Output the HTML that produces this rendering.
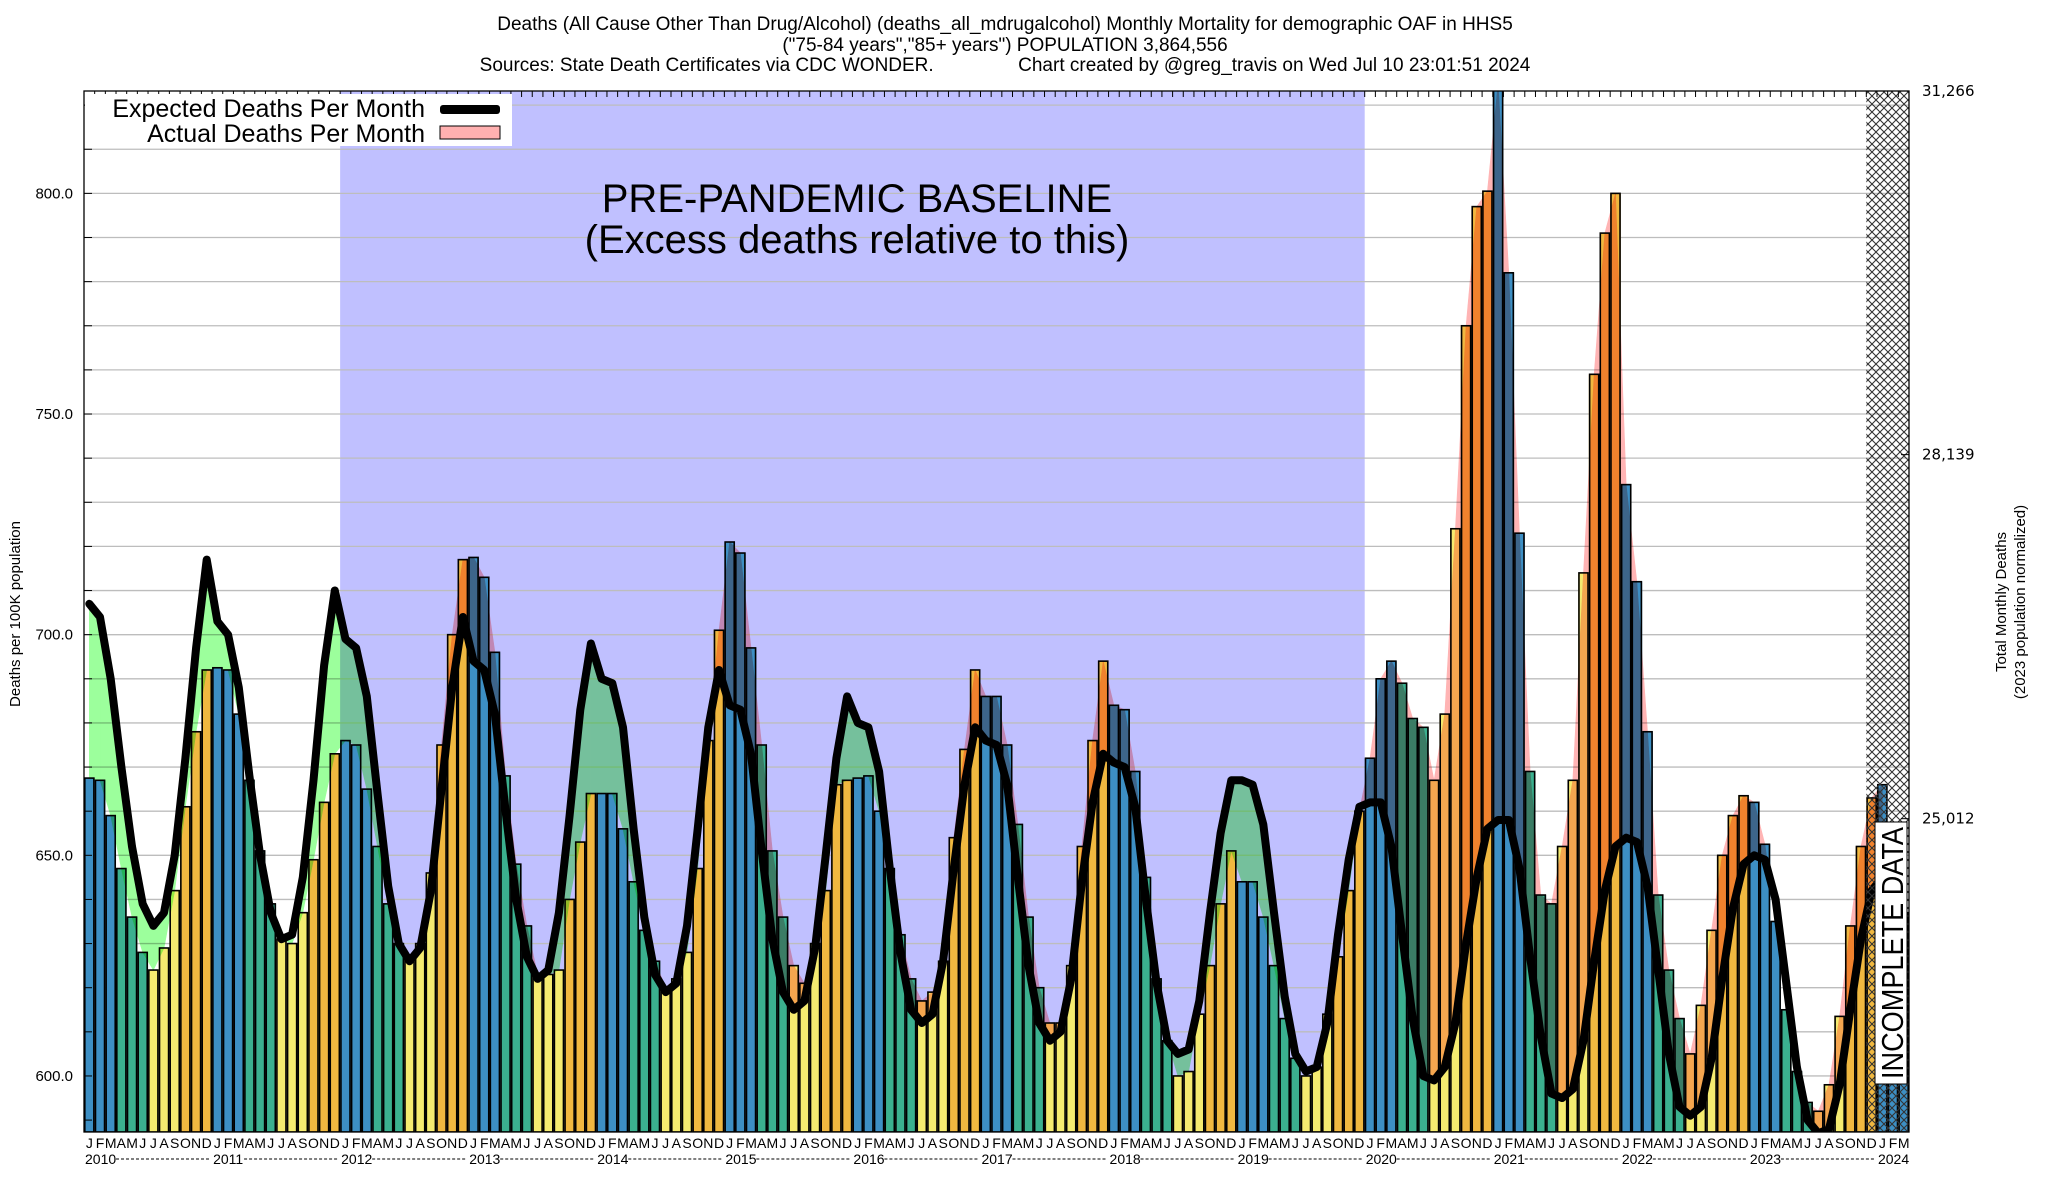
<!DOCTYPE html>
<html><head><meta charset="utf-8"><style>
html,body{margin:0;padding:0;background:#fff;}
svg{display:block;font-family:"Liberation Sans Narrow","Liberation Sans",sans-serif;}
</style></head><body>
<svg id="chart" width="2048" height="1200" viewBox="0 0 2048 1200" xmlns="http://www.w3.org/2000/svg">
<defs>
<pattern id="hatch" width="8" height="8" patternUnits="userSpaceOnUse">
<path d="M0,0 L8,8 M8,0 L0,8" stroke="#333" stroke-width="1.1"/>
</pattern>
<clipPath id="plotclip"><rect x="84" y="91" width="1825" height="1041"/></clipPath>
</defs>
<g id="titles" font-size="19" text-anchor="middle" fill="#000">
<text x="1005" y="30">Deaths (All Cause Other Than Drug/Alcohol) (deaths_all_mdrugalcohol) Monthly Mortality for demographic OAF in HHS5</text>
<text x="1005" y="51">("75-84 years","85+ years") POPULATION 3,864,556</text>
<text x="1005" y="71" xml:space="preserve">Sources: State Death Certificates via CDC WONDER.                Chart created by @greg_travis on Wed Jul 10 23:01:51 2024</text>
</g>
<g clip-path="url(#plotclip)">
<g id="layer-bg"></g>
<g id="layer-grid"></g>
<g id="layer-bars"></g>
<g id="layer-areas" style="mix-blend-mode:multiply"></g>
<g id="layer-outlines"></g>
<g id="layer-line"></g>
</g>
<g id="layer-hatch"></g>
<g id="layer-axes"></g>
<g id="layer-text"></g>
</svg>
<script>
const years = [2010,2011,2012,2013,2014,2015,2016,2017,2018,2019,2020,2021,2022,2023,2024];
const monthLetters = ["J","F","M","A","M","J","J","A","S","O","N","D"];
const actualDeaths = [
667.5,667,659,647,636,628,624,629,642,661,678,692,
692.5,692,682,667,651,639,631,630,637,649,662,673,
676,675,665,652,639,630,627,630,646,675,700,717,
717.5,713,696,668,648,634,623,623,624,640,653,664,
664,664,656,644,633,626,620,622,628,647,676,701,
721,718.5,697,675,651,636,625,621,630,642,666,667,
667.5,668,660,647,632,622,617,619,626,654,674,692,
686,686,675,657,636,620,612,612,625,652,676,694,
684,683,669,645,622,608,600,601,614,625,639,651,
644,644,636,625,613,604,600,602,614,627,642,660,
672,690,694,689,681,679,667,682,724,770,797,800.5,
825,782,723,669,641,639,652,667,714,759,791,800,
734,712,678,641,624,613,605,616,633,650,659,663.5,
662,652.5,635,615,601,594,592,598,613.5,634,652,663,
666,657,637
];
const expectedDeaths = [
707,704,690,670,652,639,634,637,650,672,697,717,
703,700,688,668,650,637,631,632,645,667,693,710,
699,697,686,664,643,630,626,629,642,665,688,704,
694,692,682,660,640,627,622,624,637,659,683,698,
690,689,679,656,636,623,619,621,634,656,679,692,
684,683,673,651,631,619,615,617,629,650,672,686,
680,679,669,647,628,615,612,614,626,647,666,679,
676,675,666,645,625,612,608,610,622,644,662,673,
671,670,661,640,621,608,605,606,617,637,655,667,
667,666,657,637,618,605,601,602,612,632,649,661,
662,662,652,632,613,600,599,602,612,630,645,656,
658,658,647,627,609,596,595,597,608,626,642,652,
654,653,643,624,605,593,591,593,604,622,638,648,
650,649,640,621,602,590,587,588,598,615,631,642,
645
];
const yTicks = [600,650,700,750,800];
const rightTickLabels = ["25,012","28,139","31,266"];
const rightTickValues = [658.3,740.8,823.2];

const NS="http://www.w3.org/2000/svg";
const L=84,R=1909,T=91,B=1132, YMIN=587.3, YMAX=823.2;
const N=actualDeaths.length;
const bw=(R-L)/N;
function xs(i){return L+i*bw;}
function xc(i){return L+(i+0.5)*bw;}
function ys(v){return B-(v-YMIN)/(YMAX-YMIN)*(B-T);}
function mk(tag,attrs,parent){const e=document.createElementNS(NS,tag);for(const k in attrs)e.setAttribute(k,attrs[k]);document.getElementById(parent).appendChild(e);return e;}

let e=mk('rect',{x:L,y:T,width:R-L,height:B-T,fill:'#fff'},'layer-bg');


e=mk('rect',{x:xs(24),y:T,width:xs(120)-xs(24),height:B-T,fill:'#c0c0ff'},'layer-bg');



for(let v=590;v<=820;v+=10){
  e=mk('line',{x1:L,x2:R,y1:ys(v),y2:ys(v),stroke:'#bdbdbd','stroke-width':1.3},'layer-grid');
  
  
  mk('line',{x1:L,x2:L+8,y1:ys(v),y2:ys(v),stroke:'#000','stroke-width':1},'layer-axes');
}

const qColors=['#3d8fc4','#3bb08f','#f5eb70','#f0b840'];
for(let i=0;i<N;i++){
  const m=i%12, c=qColors[Math.floor(m/3)];
  e=mk('rect',{x:xs(i),y:ys(actualDeaths[i]),width:bw,height:B-ys(actualDeaths[i]),fill:c},'layer-bars');
  
  
  e=mk('rect',{x:xs(i)+0.8,y:ys(actualDeaths[i]),width:bw-1.6,height:B-ys(actualDeaths[i]),fill:'none',stroke:'#000','stroke-width':1.6},'layer-outlines');
  
  
}

const NE=expectedDeaths.length;
function segs(sign){
  const polys=[];
  for(let i=0;i<NE-1;i++){
    const d0=actualDeaths[i]-expectedDeaths[i], d1=actualDeaths[i+1]-expectedDeaths[i+1];
    const x0=xc(i),x1=xc(i+1);
    const p0=sign*d0>0,p1=sign*d1>0;
    if(p0||p1){
      let ta=0,tb=1;
      if(p0!==p1){const t=d0/(d0-d1); if(p0)tb=t; else ta=t;}
      const lerp=(a,b,t)=>a+(b-a)*t;
      const xa=lerp(x0,x1,ta),xb=lerp(x0,x1,tb);
      const aa=lerp(actualDeaths[i],actualDeaths[i+1],ta),ab=lerp(actualDeaths[i],actualDeaths[i+1],tb);
      const ea=lerp(expectedDeaths[i],expectedDeaths[i+1],ta),eb=lerp(expectedDeaths[i],expectedDeaths[i+1],tb);
      polys.push(`${xa},${ys(aa)} ${xb},${ys(ab)} ${xb},${ys(eb)} ${xa},${ys(ea)}`);
    }
  }
  return polys;
}
segs(1).forEach(p=>{e=mk('polygon',{points:p,fill:'#ffb4b4',stroke:'#ffb4b4','stroke-width':0.6},'layer-areas');
  
  });
segs(-1).forEach(p=>{e=mk('polygon',{points:p,fill:'#9cff9c',stroke:'#9cff9c','stroke-width':0.6},'layer-areas');
  
  });

let d='';
for(let i=0;i<NE;i++){d+=(i?'L':'M')+xc(i).toFixed(1)+','+ys(expectedDeaths[i]).toFixed(1);}
e=mk('path',{d:d,fill:'none',stroke:'#000','stroke-width':8,'stroke-linejoin':'round','stroke-linecap':'round'},'layer-line');



e=mk('rect',{x:xs(167),y:T,width:R-xs(167),height:B-T,fill:'url(#hatch)'},'layer-hatch');



e=mk('rect',{x:L,y:T,width:R-L,height:B-T,fill:'none',stroke:'#000','stroke-width':1.3},'layer-axes');


for(let i=0;i<=N;i++){mk('line',{x1:xs(i),x2:xs(i),y1:T,y2:T+6,stroke:'#000','stroke-width':1},'layer-axes');}

yTicks.forEach(v=>{e=mk('text',{x:73,y:ys(v)+5,'font-size':15,'text-anchor':'end'},'layer-text');e.textContent=v.toFixed(1);
  
  });
rightTickValues.forEach((v,k)=>{
  mk('line',{x1:R-8,x2:R,y1:ys(v),y2:ys(v),stroke:'#000','stroke-width':1},'layer-axes');
  e=mk('text',{x:1922,y:ys(v)+5,'font-size':15,'font-family':'DejaVu Sans, sans-serif'},'layer-text');e.textContent=rightTickLabels[k];
  
  });

for(let i=0;i<N;i++){
  e=mk('text',{x:xc(i),y:1148,'font-size':14,'text-anchor':'middle'},'layer-text');e.textContent=monthLetters[i%12];
  
  
}
years.forEach((yr,k)=>{
  const x=xs(k*12);
  e=mk('text',{x:x+1,y:1164,'font-size':14},'layer-text');e.textContent=yr;
  
  
  if(k<years.length-1){
    mk('line',{x1:x+32,x2:xs((k+1)*12)-2,y1:1159,y2:1159,stroke:'#000','stroke-width':1,'stroke-dasharray':'3,2'},'layer-text');
  }
});
</script>
<div style="position:absolute;left:0;top:0;width:2048px;height:1200px;pointer-events:none;">
<svg width="2048" height="1200" style="position:absolute;left:0;top:0;font-family:'Liberation Sans Narrow','Liberation Sans',sans-serif;">
<text transform="translate(20,614) rotate(-90)" font-size="15" text-anchor="middle">Deaths per 100K population</text>
<g font-size="15" text-anchor="middle">
<text transform="translate(2006,602) rotate(-90)">Total Monthly Deaths</text>
<text transform="translate(2025,602) rotate(-90)">(2023 population normalized)</text>
</g>
<g>
<rect x="85" y="94" width="427" height="52" fill="#fff"/>
<text x="425" y="117" font-size="25" text-anchor="end">Expected Deaths Per Month</text>
<rect x="440" y="105" width="60" height="9" rx="3" fill="#000"/>
<text x="425" y="142" font-size="25" text-anchor="end">Actual Deaths Per Month</text>
<rect x="440" y="126" width="60" height="13" fill="#ffb0b0" stroke="#000" stroke-width="1"/>
</g>
<g font-size="40" text-anchor="middle" font-family="'Liberation Sans',sans-serif">
<text x="857" y="212">PRE-PANDEMIC BASELINE</text>
<text x="857" y="253">(Excess deaths relative to this)</text>
</g>
<g transform="translate(1891,1084) rotate(-90)">
<rect x="0" y="-16" width="262" height="32" fill="#fff" stroke="#000" stroke-width="1"/>
<text x="131" y="12" font-size="31" text-anchor="middle" textLength="252" lengthAdjust="spacingAndGlyphs">INCOMPLETE DATA</text>
</g>
</svg>
</div>
</body></html>
